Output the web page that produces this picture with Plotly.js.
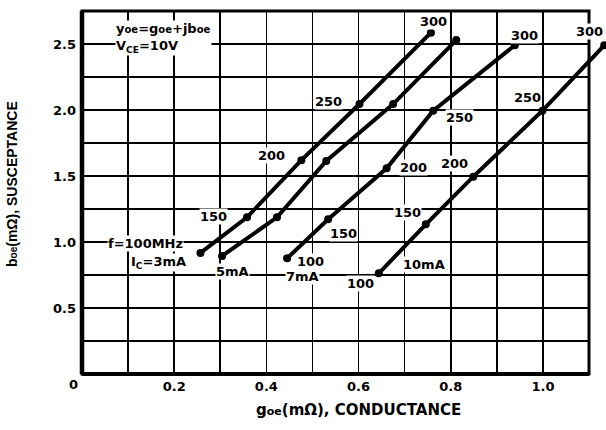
<!DOCTYPE html>
<html>
<head>
<meta charset="utf-8">
<script src="https://cdn.plot.ly/plotly-3.0.1.min.js"></script>
<style>html,body{margin:0;padding:0;background:#fff;}#chart{width:606px;height:430px;}</style>
</head>
<body>
<div id="chart"></div>
<script>
// Frequencies (MHz) at the marked points of each curve
const freqs = [100, 150, 200, 250, 300];
// Conductance goe (mΩ) and susceptance boe (mΩ) per collector current
const g_3mA  = [0.257, 0.358, 0.476, 0.602, 0.757];
const b_3mA  = [0.917, 1.187, 1.620, 2.045, 2.586];
const g_5mA  = [0.304, 0.423, 0.530, 0.675, 0.812];
const b_5mA  = [0.894, 1.187, 1.614, 2.045, 2.530];
const g_7mA  = [0.445, 0.534, 0.661, 0.762, 0.939];
const b_7mA  = [0.876, 1.172, 1.558, 1.995, 2.490];
const g_10mA = [0.644, 0.746, 0.849, 0.999, 1.133];
const b_10mA = [0.763, 1.134, 1.495, 1.995, 2.490];
// Tick labels
const xTicks = [0.2, 0.4, 0.6, 0.8, 1.0];
const xTickText = ['0.2', '0.4', '0.6', '0.8', '1.0'];
const yTicks = [0.5, 1.0, 1.5, 2.0, 2.5];
const yTickText = ['0.5', '1.0', '1.5', '2.0', '2.5'];
// Frequency labels beside points: [text, g, b]
const freqLabels = [
  ['150', 0.285, 1.197], ['200', 0.411, 1.652], ['250', 0.535, 2.061], ['300', 0.763, 2.674],
  ['300', 0.959, 2.568], ['300', 1.102, 2.598],
  ['250', 0.820, 1.947], ['250', 0.967, 2.091],
  ['200', 0.720, 1.561], ['200', 0.809, 1.598],
  ['150', 0.567, 1.068], ['150', 0.707, 1.220],
  ['100', 0.496, 0.856], ['100', 0.604, 0.689]
];
// Current labels: [text, g, b]
const currentLabels = [
  ['I<sub>C</sub>=3mA', 0.165, 0.841], ['5mA', 0.326, 0.773],
  ['7mA', 0.478, 0.742], ['10mA', 0.741, 0.833]
];

const FONT = 'DejaVu Sans, Liberation Sans, Arial, sans-serif';
const XMAX = 1.1;
const YMAX = 2.75;
const plotLeft = 82, plotRight = 606, frameRight = 589;
const dom = (frameRight - plotLeft) / (plotRight - plotLeft);

function curve(g, b, onAlt) {
  return {
    x: g, y: b, text: freqs.map(String), type: 'scatter', mode: 'lines+markers',
    line: {color: '#000', width: 4}, marker: {color: '#000', size: 8},
    xaxis: onAlt ? 'x2' : 'x', yaxis: onAlt ? 'y2' : 'y', hoverinfo: 'x+y+text', showlegend: false,
    cliponaxis: false
  };
}

const data = [
  curve(g_3mA, b_3mA, false),
  curve(g_5mA, b_5mA, false),
  curve(g_7mA, b_7mA, false),
  curve(g_10mA, b_10mA, true)
];

const annotations = [];
function lbl(text, x, y, extra) {
  return Object.assign({
    text: text, x: x, y: y, xref: x > XMAX ? 'x2' : 'x', yref: 'y', showarrow: false,
    font: {family: FONT, size: 13, color: '#000', weight: 'bold'},
    bgcolor: '#fff', borderpad: 0, xanchor: 'center', yanchor: 'middle'
  }, extra || {});
}
freqLabels.forEach(l => annotations.push(lbl(l[0], l[1], l[2])));
currentLabels.forEach(l => annotations.push(lbl(l[0], l[1], l[2])));
annotations.push(lbl('f=100MHz', 0.137, 0.992));
annotations.push(lbl('y<span style="font-size:10px">oe</span>=g<span style="font-size:10px">oe</span>+jb<span style="font-size:10px">oe</span><br>V<sub>CE</sub>=10V',
  0.072, 2.545, {xanchor: 'left', align: 'left'}));
// corner zero
annotations.push({text: '0', xref: 'paper', yref: 'paper', x: (73 - plotLeft) / (plotRight - plotLeft), y: -10 / 363,
  showarrow: false, font: {family: FONT, size: 13, color: '#000', weight: 'bold'}, xanchor: 'center', yanchor: 'middle'});
// axis titles
annotations.push({text: 'g<span style="font-size:11px">oe</span>(mΩ), CONDUCTANCE', xref: 'paper', yref: 'paper',
  x: (358 - plotLeft) / (plotRight - plotLeft), y: -36 / 363, showarrow: false,
  font: {family: FONT, size: 15, color: '#000', weight: 'bold'}, xanchor: 'center', yanchor: 'middle'});
annotations.push({text: 'b<span style="font-size:10px">oe</span>(mΩ), SUSCEPTANCE', xref: 'paper', yref: 'paper',
  x: (12 - plotLeft) / (plotRight - plotLeft), y: (374 - 184) / 363, showarrow: false, textangle: -90,
  font: {family: 'Liberation Sans, Arial, sans-serif', size: 14, color: '#000', weight: 'bold'}, xanchor: 'center', yanchor: 'middle'});

const layout = {
  width: 606, height: 430,
  margin: {l: plotLeft, r: 606 - plotRight, t: 11, b: 56, pad: 0},
  paper_bgcolor: '#fff', plot_bgcolor: 'rgba(0,0,0,0)',
  showlegend: false,
  xaxis: {
    domain: [0, dom], range: [0, XMAX], tickmode: 'array', tickvals: xTicks, ticktext: xTickText,
    showgrid: true, gridcolor: '#000', gridwidth: 1.6, zeroline: false, showline: false, ticks: '',
    tickfont: {family: FONT, size: 13, color: '#000', weight: 'bold'}, ticklabelstandoff: 3,
    minor: {tickmode: 'linear', tick0: 0, dtick: 0.1, showgrid: true, gridcolor: '#000', gridwidth: 1.6, ticks: ''},
    fixedrange: true
  },
  yaxis: {
    domain: [0, 1], range: [0, YMAX], tickmode: 'array', tickvals: yTicks, ticktext: yTickText,
    showgrid: true, gridcolor: '#000', gridwidth: 1.6, zeroline: false, showline: false, ticks: '',
    tickfont: {family: FONT, size: 13, color: '#000', weight: 'bold'}, ticklabelstandoff: 5,
    minor: {tickmode: 'linear', tick0: 0, dtick: 0.25, showgrid: true, gridcolor: '#000', gridwidth: 1.6, ticks: ''},
    fixedrange: true
  },
  xaxis2: {domain: [0, 1], range: [0, XMAX / dom], visible: false, anchor: 'y2', fixedrange: true},
  yaxis2: {domain: [0, 1], range: [0, YMAX], visible: false, anchor: 'x2', fixedrange: true},
  shapes: [
    {type: 'rect', xref: 'x domain', yref: 'y domain', x0: 0, x1: 1, y0: 0, y1: 1,
     line: {color: '#000', width: 3}, layer: 'below'},
    {type: 'line', xref: 'x domain', yref: 'y domain', x0: 0, x1: 0, y0: 0, y1: 1,
     line: {color: '#000', width: 4.5}, layer: 'below'},
    {type: 'line', xref: 'x domain', yref: 'y domain', x0: 0, x1: 1, y0: 0, y1: 0,
     line: {color: '#000', width: 4}, layer: 'below'}
  ],
  annotations: annotations
};

Plotly.newPlot('chart', data, layout, {displayModeBar: false, staticPlot: true});
</script>
</body>
</html>
